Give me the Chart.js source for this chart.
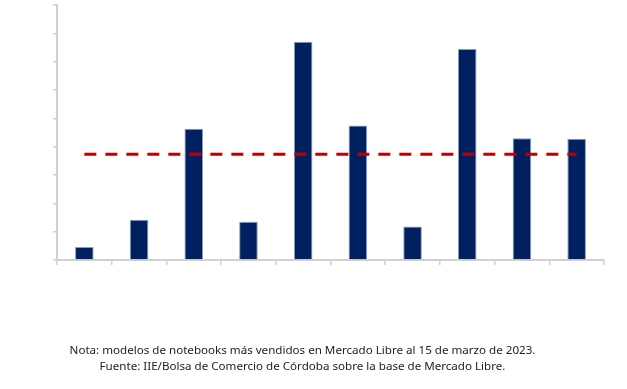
<!DOCTYPE html>
<html>
<head>
<meta charset="utf-8">
<script src="https://cdn.jsdelivr.net/npm/chart.js@4"></script>
<style>
  body { margin: 0; background: #fff; }
  #wrap { position: relative; width: 627px; height: 389px; }
  #nota {
    position: absolute; left: 0; top: 342px; width: 605px;
    text-align: center; font-family: "Noto Sans", sans-serif;
    font-size: 11.6px; line-height: 16px; color: #222;
  }
</style>
</head>
<body>
<div id="wrap">
  <canvas id="grafico" width="627" height="389"></canvas>
  <div id="nota">Nota: modelos de notebooks más vendidos en Mercado Libre al 15 de marzo de 2023.<br>Fuente: IIE/Bolsa de Comercio de Córdoba sobre la base de Mercado Libre.</div>
</div>
<script>
// modelos (etiquetas no visibles en el original)
const modelos = ['Modelo 1','Modelo 2','Modelo 3','Modelo 4','Modelo 5','Modelo 6','Modelo 7','Modelo 8','Modelo 9','Modelo 10'];
const precios = [46, 142, 463, 135, 770, 475, 118, 745, 430, 428];
const promedio = [373, 373, 373, 373, 373, 373, 373, 373, 373, 373];
const ejeY = { min: 0, max: 900, paso: 100 };

const ctx = document.getElementById('grafico');

new Chart(ctx, {
  data: {
    labels: modelos,
    datasets: [
      {
        type: 'line',
        label: 'Promedio',
        data: promedio,
        borderColor: '#c00000',
        borderWidth: 3,
        borderDash: [12, 9],
        pointRadius: 0,
        fill: false
      },
      {
        type: 'bar',
        label: 'Precio',
        data: precios,
        backgroundColor: '#002060',
        borderColor: '#8a9bbb',
        borderWidth: 1,
        categoryPercentage: 1,
        barPercentage: 0.34
      }
    ]
  },
  options: {
    responsive: false,
    animation: false,
    layout: { padding: { left: 53, top: 5, right: 23, bottom: 124 } },
    plugins: { legend: { display: false }, tooltip: { enabled: false } },
    scales: {
      x: {
        offset: true,
        grid: { drawOnChartArea: false, offset: true, tickLength: 5, color: '#d0d0d0', lineWidth: 1.5 },
        border: { color: '#d0d0d0', width: 2 },
        ticks: { display: false },
        afterFit: function (s) { s.height = 5; }
      },
      y: {
        min: ejeY.min,
        max: ejeY.max,
        grid: { drawOnChartArea: false, tickLength: 4, color: '#d0d0d0', lineWidth: 1.5 },
        border: { color: '#d0d0d0', width: 2 },
        ticks: { display: false, stepSize: ejeY.paso },
        afterFit: function (s) { s.width = 4; }
      }
    }
  }
});
</script>
</body>
</html>
